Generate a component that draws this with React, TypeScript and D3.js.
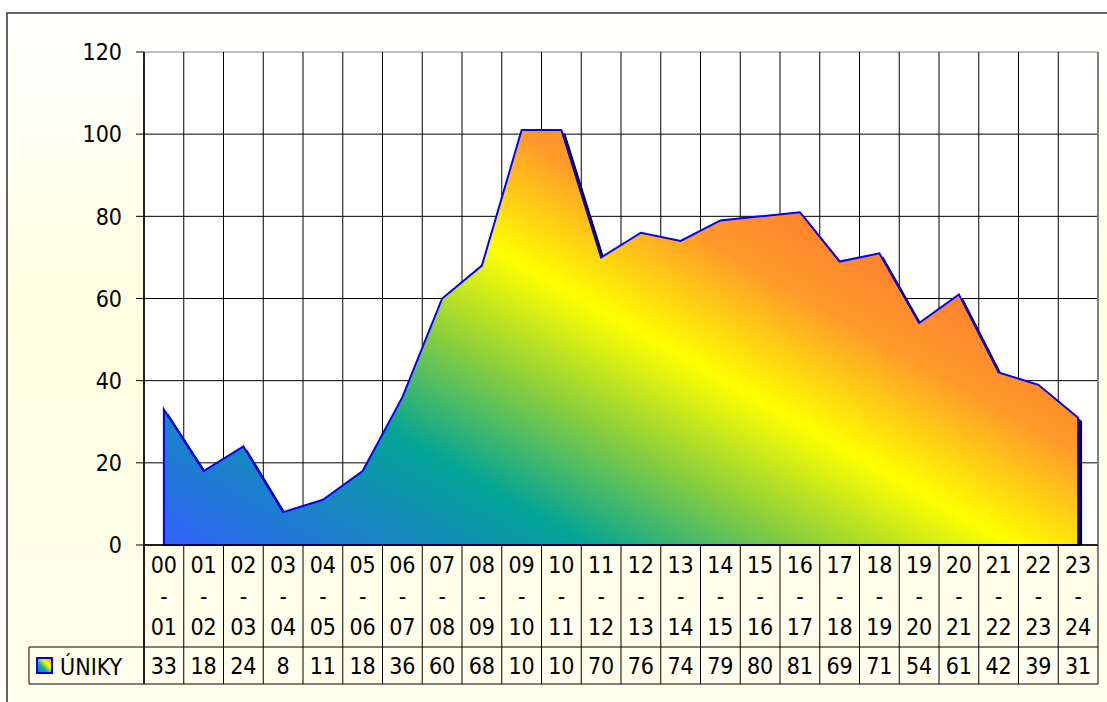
import React from "react";
import * as d3 from "d3";

const categories = ["00-01","01-02","02-03","03-04","04-05","05-06","06-07","07-08","08-09","09-10","10-11","11-12","12-13","13-14","14-15","15-16","16-17","17-18","18-19","19-20","20-21","21-22","22-23","23-24"];
const values = [33,18,24,8,11,18,36,60,68,101,101,70,76,74,79,80,81,69,71,54,61,42,39,31];
const yTicks = [0,20,40,60,80,100,120];
const seriesName = "ÚNIKY";

const W = 1107, H = 702;
const L = 144, R = 1098, T = 52, B = 545;
const tableMid = 647, tableBot = 684, tableLeft = 29;
const FONT = "'DejaVu Sans Condensed', 'DejaVu Sans', Verdana, sans-serif";
const FS = 23;

export default function App() {
  const x = d3.scaleBand<string>().domain(categories).range([L, R]).paddingInner(0).paddingOuter(0);
  const bw = x.bandwidth();
  const y = d3.scaleLinear().domain([0, 120]).range([B, T]);
  const cx = (c: string) => (x(c) as number) + bw / 2;
  const pts: [number, number][] = values.map((v, i) => [cx(categories[i]), v]);
  const area = d3.area<[number, number]>().x(d => d[0]).y0(y(0)).y1(d => y(d[1]))(pts) as string;
  const bounds = categories.map(c => x(c) as number).concat([R]);
  const g0 = [165, 545];
  const n = [0.494, -0.869];
  const Lg = 700;
  const fmt = (v: number) => { const s = String(v); return s.length > 2 ? s.slice(0, 2) : s; };

  return (
    <svg width={W} height={H} style={{ position: "absolute", left: 0, top: 0, fontStretch: "condensed" }} fontFamily={FONT}>
      <defs>
        <linearGradient id="bg" x1="0" y1="0" x2="0" y2="1">
          <stop offset="0" stopColor="#ffffff" />
          <stop offset="0.4" stopColor="#ffffe2" />
          <stop offset="1" stopColor="#ffffee" />
        </linearGradient>
        <linearGradient id="fill" gradientUnits="userSpaceOnUse" x1={g0[0]} y1={g0[1]} x2={g0[0] + n[0] * Lg} y2={g0[1] + n[1] * Lg}>
          <stop offset="0" stopColor="#3262fa" />
          <stop offset="0.3" stopColor="#03a496" />
          <stop offset="0.46" stopColor="#8fd03a" />
          <stop offset="0.6" stopColor="#ffff00" />
          <stop offset="0.76" stopColor="#ff9a2a" />
          <stop offset="1" stopColor="#ff6634" />
        </linearGradient>
        <linearGradient id="key" x1="0" y1="1" x2="1" y2="0">
          <stop offset="0" stopColor="#3262fa" />
          <stop offset="0.35" stopColor="#03a496" />
          <stop offset="0.65" stopColor="#ffff00" />
          <stop offset="1" stopColor="#ff7a30" />
        </linearGradient>
        <clipPath id="plot"><rect x={L} y={T} width={R - L} height={B - T} /></clipPath>
        {categories.map((c, i) => (
          <clipPath key={c} id={"cell" + i}><rect x={x(c) as number} y={tableMid} width={bw} height={tableBot - tableMid} /></clipPath>
        ))}
      </defs>
      <rect x={7} y={13} width={W + 10} height={H + 10} fill="url(#bg)" stroke="#333" strokeWidth={1.5} />
      <rect x={L} y={T} width={R - L} height={B - T} fill="#ffffff" />
      {yTicks.map(t => (
        <line key={"h" + t} x1={L} x2={R} y1={y(t)} y2={y(t)} stroke={t === 120 ? "#808080" : "#000"} strokeWidth={1} />
      ))}
      {bounds.map((b, i) => (
        <line key={"v" + i} x1={b} x2={b} y1={T} y2={tableBot} stroke={i === bounds.length - 1 ? "#808080" : "#000"} strokeWidth={i === bounds.length - 1 ? 2 : 1} />
      ))}
      <g clipPath="url(#plot)">
        <path d={area} fill="#000" transform="translate(4,3.5)" />
      </g>
      <path d={area} fill="url(#fill)" stroke="#0000ff" strokeWidth={2} strokeLinejoin="miter" />
      <line x1={L} x2={L} y1={T} y2={tableBot} stroke="#000" strokeWidth={1.5} />
      <line x1={L} x2={R} y1={B} y2={B} stroke="#000" strokeWidth={1.5} />
      {yTicks.map(t => (
        <g key={"t" + t}>
          <line x1={L - 8} x2={L} y1={y(t)} y2={y(t)} stroke="#000" strokeWidth={1} />
          <text x={122} y={y(t)} dy="0.36em" textAnchor="end" fontSize={FS} fill="#000">{t}</text>
        </g>
      ))}
      <line x1={tableLeft} x2={R} y1={tableMid} y2={tableMid} stroke="#000" strokeWidth={1} />
      <line x1={tableLeft} x2={R} y1={tableBot} y2={tableBot} stroke="#000" strokeWidth={1} />
      <line x1={tableLeft} x2={tableLeft} y1={tableMid} y2={tableBot} stroke="#000" strokeWidth={1} />
      {categories.map((c, i) => {
        const parts = c.split("-");
        const xc = cx(c);
        return (
          <g key={"c" + c} fontSize={FS} fill="#000" textAnchor="middle">
            <text x={xc} y={565} dy="0.36em">{parts[0]}</text>
            <text x={xc} y={596} dy="0.36em">-</text>
            <text x={xc} y={627} dy="0.36em">{parts[1]}</text>
            <text x={xc} y={666} dy="0.36em" clipPath={"url(#cell" + i + ")"}>{fmt(values[i])}</text>
          </g>
        );
      })}
      <rect x={37} y={658} width={15} height={15} fill="url(#key)" stroke="#0000ff" strokeWidth={2} />
      <text x={60} y={667} dy="0.36em" fontSize={FS} fill="#000">{seriesName}</text>
    </svg>
  );
}
